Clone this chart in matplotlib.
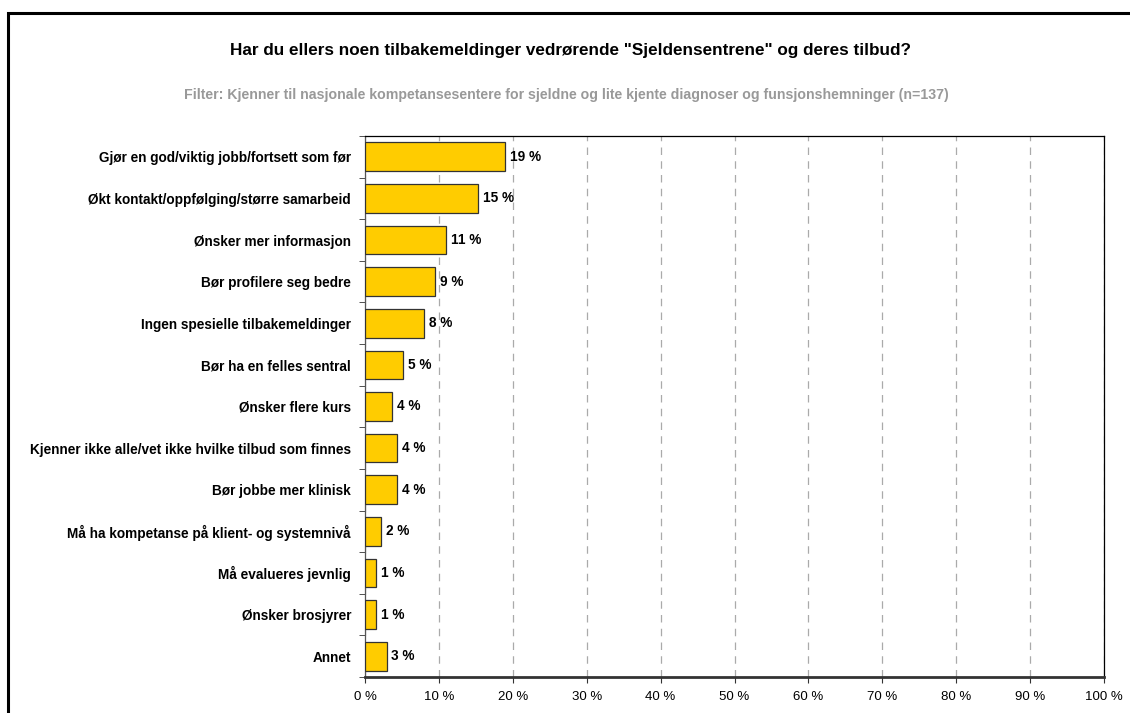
import matplotlib.pyplot as plt
from matplotlib.patches import Rectangle
from matplotlib.ticker import FixedLocator

plt.rcParams['font.family'] = ['Liberation Sans', 'DejaVu Sans']

categories = [
    "Gjør en god/viktig jobb/fortsett som før",
    "Økt kontakt/oppfølging/større samarbeid",
    "Ønsker mer informasjon",
    "Bør profilere seg bedre",
    "Ingen spesielle tilbakemeldinger",
    "Bør ha en felles sentral",
    "Ønsker flere kurs",
    "Kjenner ikke alle/vet ikke hvilke tilbud som finnes",
    "Bør jobbe mer klinisk",
    "Må ha kompetanse på klient- og systemnivå",
    "Må evalueres jevnlig",
    "Ønsker brosjyrer",
    "Annet",
]
# andel i prosent (n=137)
values = [18.98, 15.33, 10.95, 9.49, 8.03, 5.11, 3.65, 4.38, 4.38, 2.19, 1.46, 1.46, 2.92]
xticks = list(range(0, 101, 10))

title = 'Har du ellers noen tilbakemeldinger vedrørende "Sjeldensentrene" og deres tilbud?'
subtitle = ("Filter: Kjenner til nasjonale kompetansesentere for sjeldne og lite kjente "
            "diagnoser og funsjonshemninger (n=137)")

fig = plt.figure(figsize=(11.3, 7.13), dpi=100)
ax = fig.add_axes([0.323, 0.0505, 0.654, 0.7588])

# ramme rundt hele figuren
fig.patches.append(Rectangle((8 / 1130, -0.05), 1.2, 1 - 13 / 713 + 0.05,
                             transform=fig.transFigure, fill=False,
                             edgecolor="black", linewidth=2.2))

y = list(range(len(categories)))
ax.barh(y, values, height=0.69, color="#FFCC00", edgecolor="#333333",
        linewidth=0.9, zorder=3)
for yi, v in zip(y, values):
    ax.text(v + 0.65, yi, f"{v:.0f} %", va="center", ha="left",
            fontsize=9.8, fontweight="bold", zorder=4)

ax.set_ylim(len(categories) - 0.5, -0.5)
ax.set_xlim(0, 100)
ax.set_yticks(y)
ax.set_yticklabels(categories, fontsize=9.8, fontweight="bold")
ax.tick_params(axis="y", length=0, pad=10)
ax.yaxis.set_minor_locator(FixedLocator([i - 0.5 for i in range(len(categories) + 1)]))
ax.tick_params(axis="y", which="minor", length=4, color="#333333")

ax.set_xticks(xticks)
ax.set_xticklabels([f"{t} %" for t in xticks], fontsize=9.5)
ax.tick_params(axis="x", length=4, color="#333333", pad=6)

ax.grid(axis="x", color="#aaaaaa", linestyle=(0, (6, 5)), linewidth=0.9, zorder=0)
for side in ["top", "right"]:
    ax.spines[side].set_color("black")
    ax.spines[side].set_linewidth(0.9)
ax.spines["left"].set_color("#555555")
ax.spines["left"].set_linewidth(0.9)
ax.spines["bottom"].set_color("#333333")
ax.spines["bottom"].set_linewidth(2)

fig.text(571 / 1130, 1 - 51 / 713, title, ha="center", va="center",
         fontsize=12.3, fontweight="bold")
fig.text(566 / 1130, 1 - 95 / 713, subtitle, ha="center", va="center",
         fontsize=10.2, fontweight="bold", color="#999999")

fig.savefig("out.png", dpi=100)
